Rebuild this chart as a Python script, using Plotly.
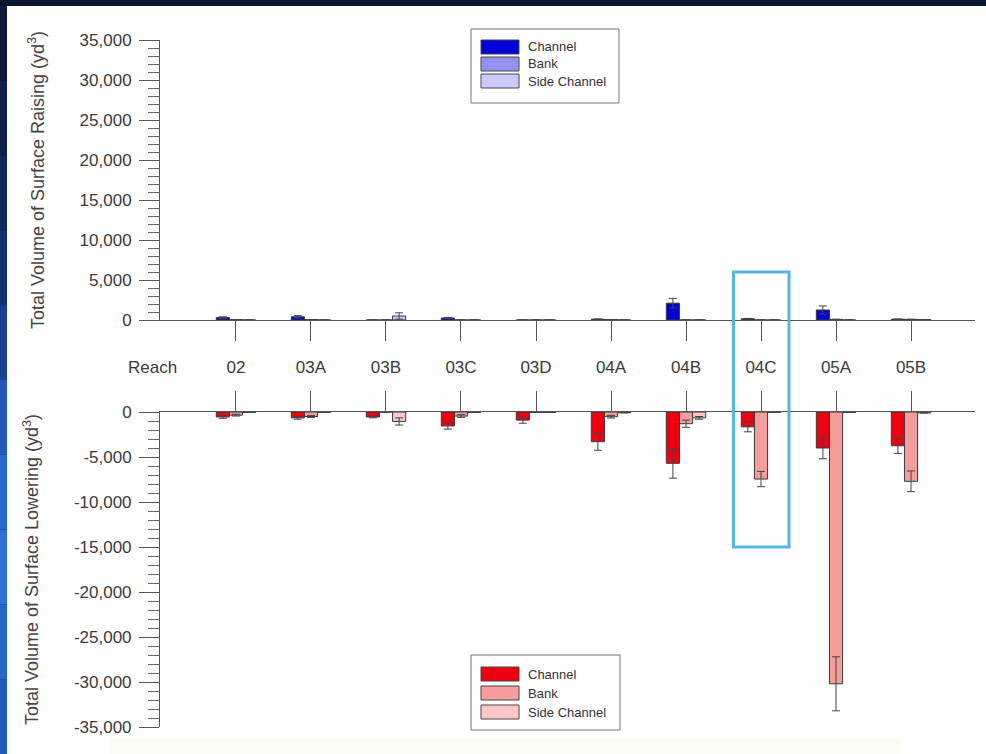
import plotly.graph_objects as go

# Reach identifiers along the river
categories = ["02", "03A", "03B", "03C", "03D", "04A", "04B", "04C", "05A", "05B"]
series_names = ["Channel", "Bank", "Side Channel"]

# Surface raising volumes (yd^3) and their uncertainties
raise_channel = [300, 400, 0, 250, 0, 100, 2100, 150, 1250, 100]
raise_channel_err = [100, 150, 0, 80, 0, 40, 600, 50, 500, 0]
raise_bank = [50, 60, 0, 0, 0, 50, 0, 0, 80, 80]
raise_bank_err = [0, 0, 0, 0, 0, 0, 0, 0, 0, 0]
raise_side = [0, 0, 500, 0, 0, 0, 0, 0, 0, 50]
raise_side_err = [0, 0, 400, 0, 0, 0, 0, 0, 0, 0]

# Surface lowering volumes (yd^3) and their uncertainties
lower_channel = [-550, -650, -550, -1550, -900, -3300, -5700, -1650, -4000, -3750]
lower_channel_err = [150, 150, 100, 350, 350, 950, 1650, 550, 1200, 850]
lower_bank = [-350, -500, 0, -450, -50, -520, -1300, -7450, -30200, -7700]
lower_bank_err = [100, 100, 0, 150, 0, 150, 400, 850, 3000, 1150]
lower_side = [-50, -50, -1050, -50, -50, -80, -650, -50, -50, -100]
lower_side_err = [0, 0, 400, 0, 0, 0, 150, 0, 0, 0]

raise_ticks = list(range(0, 35001, 5000))
lower_ticks = list(range(0, -35001, -5000))

W, H = 986, 754
BLUES = ["#0000d8", "#9393f2", "#cacaff"]
REDS = ["#ee0010", "#f59c9c", "#ffc6c6"]
OUTLINE = "#3a3a3a"
FONT = "Liberation Sans, Arial, sans-serif"


def px(x):
    return x / W


def py(y):
    return 1 - y / H


x_idx = list(range(len(categories)))
fig = go.Figure()

raise_sets = [(raise_channel, raise_channel_err), (raise_bank, raise_bank_err),
              (raise_side, raise_side_err)]
lower_sets = [(lower_channel, lower_channel_err), (lower_bank, lower_bank_err),
              (lower_side, lower_side_err)]

for name, color, (vals, errs) in zip(series_names, BLUES, raise_sets):
    fig.add_trace(go.Bar(
        x=x_idx, y=vals, name=name, xaxis="x", yaxis="y", showlegend=False,
        marker=dict(color=color, line=dict(color=OUTLINE, width=1)),
        error_y=dict(type="data", array=errs, color="#444", thickness=1, width=4),
    ))

for name, color, (vals, errs) in zip(series_names, REDS, lower_sets):
    fig.add_trace(go.Bar(
        x=x_idx, y=vals, name=name, xaxis="x2", yaxis="y2", showlegend=False,
        marker=dict(color=color, line=dict(color=OUTLINE, width=1)),
        error_y=dict(type="data", array=errs, color="#444", thickness=1, width=4),
    ))

tick_font = dict(family=FONT, size=17, color="#3a3a3a")
title_font = dict(family=FONT, size=18, color="#444")
x_range = [-1.013, 9.853]
x_domain = [px(160), px(975)]

common_y = dict(
    showline=True, linecolor="#555", linewidth=1, ticks="outside", ticklen=20,
    tickcolor="#555", tickfont=tick_font, showgrid=False, zeroline=False,
    ticklabelstandoff=4, automargin=False,
    minor=dict(tick0=0, dtick=1000, ticks="outside", ticklen=11, tickcolor="#666"),
)

fig.update_layout(
    width=W, height=H, margin=dict(l=0, r=0, t=0, b=0, autoexpand=False),
    paper_bgcolor="#0b1631", plot_bgcolor="rgba(0,0,0,0)",
    barmode="group", bargap=0.475, bargroupgap=0,
    xaxis=dict(
        domain=x_domain, range=x_range, anchor="y", side="bottom", automargin=False,
        showline=True, linecolor="#555", linewidth=1, showgrid=False, zeroline=False,
        tickmode="array", tickvals=x_idx, ticktext=categories,
        ticks="outside", ticklen=20, tickcolor="#555", tickfont=tick_font,
        ticklabelstandoff=12,
    ),
    xaxis2=dict(
        domain=x_domain, range=x_range, anchor="y2", side="top", automargin=False,
        showline=True, linecolor="#555", linewidth=1, showgrid=False, zeroline=False,
        tickmode="array", tickvals=x_idx, ticks="outside", ticklen=20,
        tickcolor="#555", showticklabels=False,
    ),
    yaxis=dict(
        domain=[py(320), py(40)], range=[0, 35000], anchor="x",
        tickmode="array", tickvals=raise_ticks,
        ticktext=[f"{v:,}" for v in raise_ticks],
        title=dict(text="Total Volume of Surface Raising (yd<sup>3</sup>)",
                   font=title_font, standoff=30),
        **common_y,
    ),
    yaxis2=dict(
        domain=[py(727), py(412)], range=[-35000, 0], anchor="x2",
        tickmode="array", tickvals=lower_ticks,
        ticktext=[f"{v:,}" for v in lower_ticks],
        title=dict(text="Total Volume of Surface Lowering (yd<sup>3</sup>)",
                   font=title_font, standoff=30),
        **common_y,
    ),
)

shapes = []
# slide background: dark frame, blue left edge and white chart card
shapes.append(dict(type="rect", xref="paper", yref="paper", layer="below",
                   x0=px(7), x1=1, y0=0, y1=py(6),
                   fillcolor="#fefefe", line=dict(width=0)))
shapes.append(dict(type="rect", xref="paper", yref="paper", layer="below",
                   x0=px(110), x1=px(900), y0=0, y1=py(738),
                   fillcolor="#fdfcf2", line=dict(width=0)))
edge_colors = ["#0c1a3c", "#0e2048", "#10285a", "#153272", "#1b4290",
               "#2458b4", "#2b68cc", "#2f70d6", "#2a66c8", "#245cbc"]
seg = (H - 6) / len(edge_colors)
for i, c in enumerate(edge_colors):
    shapes.append(dict(type="rect", xref="paper", yref="paper", layer="below",
                       x0=0, x1=px(7), y0=py(6 + seg * (i + 1)), y1=py(6 + seg * i),
                       fillcolor=c, line=dict(width=0)))

# highlight around reach 04C
hi = categories.index("04C")
shapes.append(dict(type="rect", xref="x", yref="paper",
                   x0=hi - 0.367, x1=hi + 0.373, y0=py(547), y1=py(272),
                   line=dict(color="#56b4e4", width=3), fillcolor="rgba(0,0,0,0)"))

annotations = [dict(text="Reach", xref="paper", yref="paper", x=px(152), y=py(368),
                    showarrow=False, font=tick_font, xanchor="center", yanchor="middle")]

# boxed legends for the two panels
legend_font = dict(family=FONT, size=13, color="#333")


def add_legend(box, centers, colors):
    x0, x1, y0, y1 = box
    shapes.append(dict(type="rect", xref="paper", yref="paper",
                       x0=px(x0), x1=px(x1), y0=py(y1), y1=py(y0),
                       line=dict(color="#777", width=1), fillcolor="white"))
    for name, color, cy in zip(series_names, colors, centers):
        shapes.append(dict(type="rect", xref="paper", yref="paper",
                           x0=px(481), x1=px(519), y0=py(cy + 7), y1=py(cy - 7),
                           line=dict(color="#444", width=1), fillcolor=color))
        annotations.append(dict(text=name, xref="paper", yref="paper",
                                x=px(526), y=py(cy), xanchor="left", yanchor="middle",
                                showarrow=False, font=legend_font))


add_legend((471, 619, 29, 103), [47, 64, 81], BLUES)
add_legend((471, 620, 655, 730), [674, 693, 712], REDS)

fig.update_layout(shapes=shapes, annotations=annotations)
fig.write_html("out.html")
